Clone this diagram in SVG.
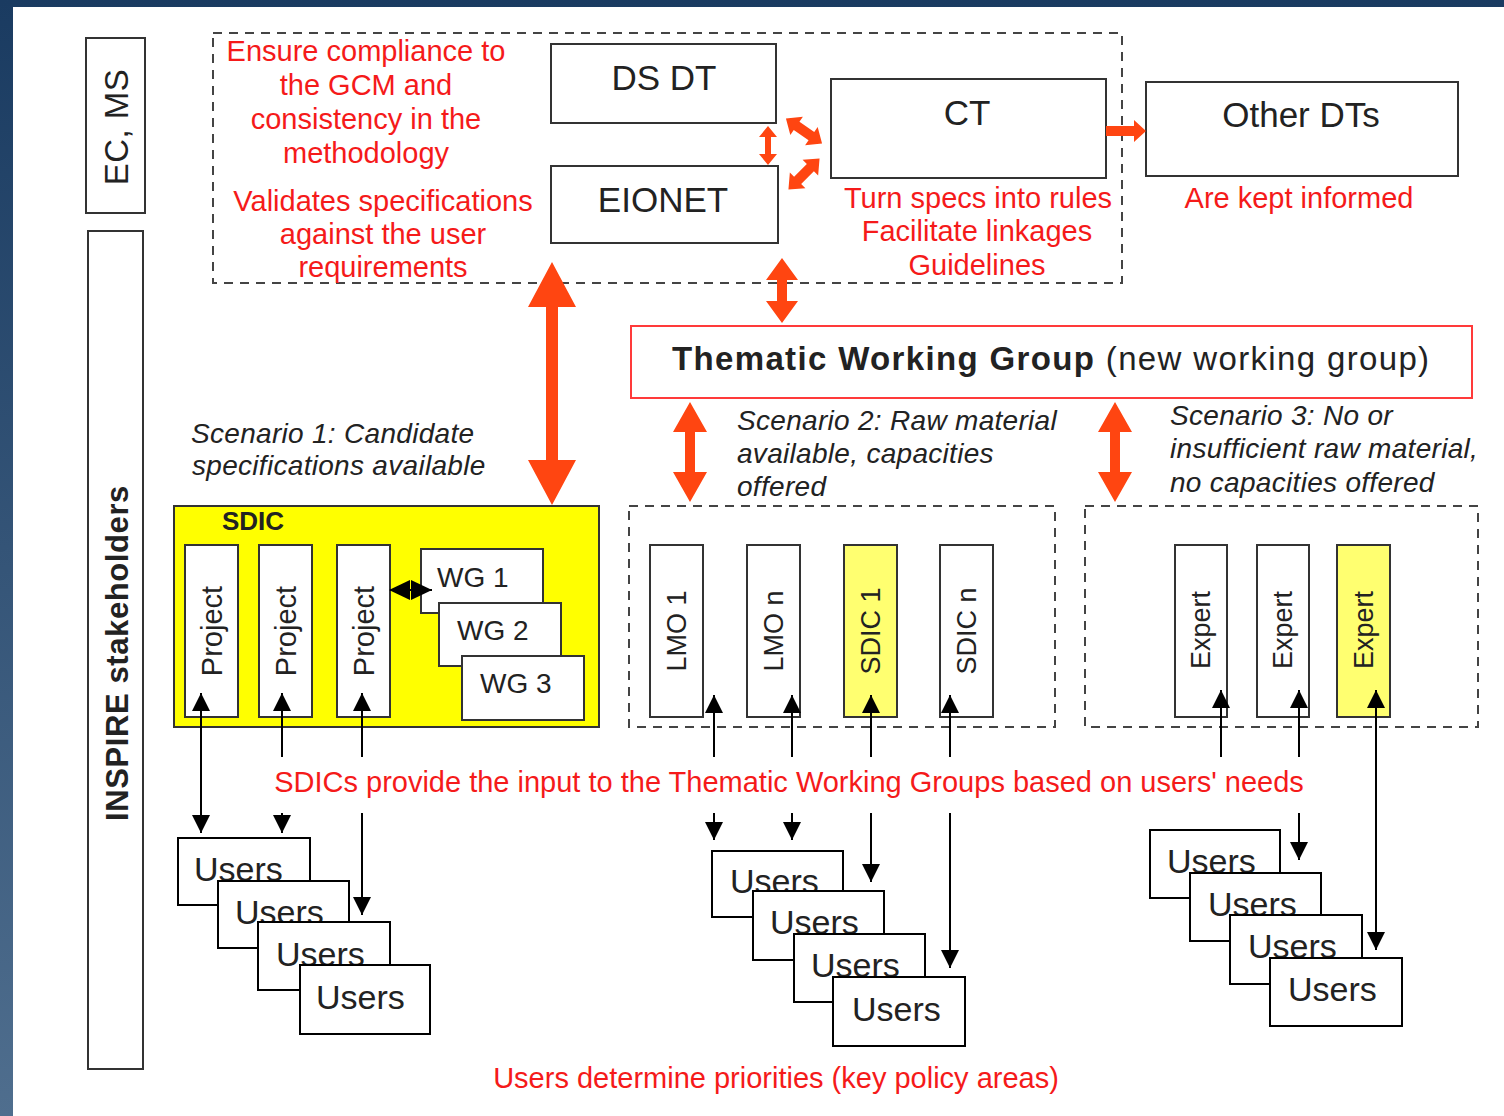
<svg xmlns="http://www.w3.org/2000/svg" width="1504" height="1116" viewBox="0 0 1504 1116">
<defs>
<linearGradient id="bg" x1="0" y1="0" x2="0" y2="1">
<stop offset="0" stop-color="#1a3b61"/>
<stop offset="1" stop-color="#4f6e8e"/>
</linearGradient>
<marker id="ah" viewBox="0 0 18 18" refX="18" refY="9" markerWidth="18" markerHeight="18" markerUnits="userSpaceOnUse" orient="auto-start-reverse">
<path d="M0,0 L18,9 L0,18 z" fill="#000"/>
</marker>
<style>
.box{fill:#fff;stroke:#333;stroke-width:2}
.ubox{fill:#fff;stroke:#000;stroke-width:2}
.dash{fill:none;stroke:#444;stroke-width:2;stroke-dasharray:9 7}
.lbl{font-family:"Liberation Sans",Arial,sans-serif;fill:#222}
.red{font-family:"Liberation Sans",Arial,sans-serif;fill:#f51a1a;font-size:29px}
.it{font-family:"Liberation Sans",Arial,sans-serif;fill:#222;font-size:28px;font-style:italic;letter-spacing:0.3px}
.ra{fill:#ff4511}
.bl{stroke:#000;stroke-width:2;fill:none}
.users{font-family:"Liberation Sans",Arial,sans-serif;fill:#222;font-size:34px}
</style>
</defs>
<rect x="0" y="0" width="1504" height="1116" fill="url(#bg)"/>
<rect x="13" y="7" width="1491" height="1109" fill="#fff"/>

<g id="ec-ms">
<rect class="box" x="86" y="38" width="59" height="175"/>
<text class="lbl" font-size="33" letter-spacing="0.5" text-anchor="middle" dy="0.35em" transform="translate(116,127) rotate(-90)">EC, MS</text>
</g>
<g id="inspire-stakeholders">
<rect class="box" x="88" y="231" width="55" height="838"/>
<text class="lbl" font-size="31" font-weight="bold" letter-spacing="0.6" fill="#111" text-anchor="middle" dy="0.35em" transform="translate(117,653) rotate(-90)">INSPIRE stakeholders</text>
</g>

<g id="top-group">
<rect class="dash" x="213" y="33" width="909" height="250"/>
<text class="red" text-anchor="middle" x="366" y="61">Ensure compliance to</text>
<text class="red" text-anchor="middle" x="366" y="95">the GCM and</text>
<text class="red" text-anchor="middle" x="366" y="129">consistency in the</text>
<text class="red" text-anchor="middle" x="366" y="163">methodology</text>
<text class="red" text-anchor="middle" x="383" y="211">Validates specifications</text>
<text class="red" text-anchor="middle" x="383" y="244">against the user</text>
<text class="red" text-anchor="middle" x="383" y="277">requirements</text>
</g>
<g id="ds-dt">
<rect class="box" x="551" y="44" width="225" height="79"/>
<text class="lbl" font-size="35" text-anchor="middle" x="664" y="90">DS DT</text>
</g>
<g id="eionet">
<rect class="box" x="551" y="166" width="227" height="77"/>
<text class="lbl" font-size="35" text-anchor="middle" x="663" y="212">EIONET</text>
</g>
<g id="ct">
<rect class="box" x="831" y="79" width="275" height="99"/>
<text class="lbl" font-size="35" text-anchor="middle" x="967" y="125">CT</text>
<text class="red" text-anchor="middle" x="978" y="208">Turn specs into rules</text>
<text class="red" text-anchor="middle" x="977" y="241">Facilitate linkages</text>
<text class="red" text-anchor="middle" x="977" y="275">Guidelines</text>
</g>
<g id="other-dts">
<rect class="box" x="1146" y="82" width="312" height="94"/>
<text class="lbl" font-size="35" text-anchor="middle" x="1301" y="127">Other DTs</text>
<text class="red" text-anchor="middle" x="1299" y="208">Are kept informed</text>
</g>

<g id="twg">
<rect x="631" y="326" width="841" height="72" fill="#fff" stroke="#ff3a3a" stroke-width="2"/>
<text class="lbl" font-size="33" letter-spacing="1.35" x="672" y="370" fill="#111"><tspan font-weight="bold">Thematic Working Group</tspan> (new working group)</text>
</g>

<g id="scenario-labels">
<text class="it" x="191" y="443">Scenario 1: Candidate</text>
<text class="it" x="192" y="475">specifications available</text>
<text class="it" x="737" y="430">Scenario 2: Raw material</text>
<text class="it" x="737" y="463">available, capacities</text>
<text class="it" x="737" y="496">offered</text>
<text class="it" x="1170" y="425">Scenario 3: No or</text>
<text class="it" x="1170" y="458">insufficient raw material,</text>
<text class="it" x="1170" y="492">no capacities offered</text>
</g>

<g id="sdic">
<rect x="174" y="506" width="425" height="221" fill="#ffff00" stroke="#333" stroke-width="2"/>
<text class="lbl" font-size="26" font-weight="bold" fill="#111" x="222" y="530">SDIC</text>
</g>
<g id="project-1">
<rect class="box" x="185" y="545" width="53" height="172"/>
<text class="lbl" font-size="29" text-anchor="middle" dy="0.35em" transform="translate(211.5,631) rotate(-90)">Project</text>
</g>
<g id="project-2">
<rect class="box" x="259" y="545" width="53" height="172"/>
<text class="lbl" font-size="29" text-anchor="middle" dy="0.35em" transform="translate(285.5,631) rotate(-90)">Project</text>
</g>
<g id="project-3">
<rect class="box" x="337" y="545" width="53" height="172"/>
<text class="lbl" font-size="29" text-anchor="middle" dy="0.35em" transform="translate(363.5,631) rotate(-90)">Project</text>
</g>
<g id="wg-1">
<rect class="box" x="421" y="549" width="122" height="64"/>
<text class="lbl" font-size="28" x="437" y="587">WG 1</text>
</g>
<g id="wg-2">
<rect class="box" x="439" y="603" width="122" height="63"/>
<text class="lbl" font-size="28" x="457" y="640">WG 2</text>
</g>
<g id="wg-3">
<rect class="box" x="462" y="656" width="122" height="64"/>
<text class="lbl" font-size="28" x="480" y="693">WG 3</text>
</g>

<g id="scenario-2">
<rect class="dash" x="629" y="506" width="426" height="221"/>
</g>
<g id="lmo-1">
<rect class="box" x="650" y="545" width="53" height="172"/>
<text class="lbl" font-size="27" text-anchor="middle" dy="0.35em" transform="translate(676.5,631) rotate(-90)">LMO 1</text>
</g>
<g id="lmo-n">
<rect class="box" x="747" y="545" width="53" height="172"/>
<text class="lbl" font-size="27" text-anchor="middle" dy="0.35em" transform="translate(773.5,631) rotate(-90)">LMO n</text>
</g>
<g id="sdic-1">
<rect x="844" y="545" width="53" height="172" fill="#ffff70" stroke="#333" stroke-width="2"/>
<text class="lbl" font-size="27" text-anchor="middle" dy="0.35em" transform="translate(870.5,631) rotate(-90)">SDIC 1</text>
</g>
<g id="sdic-n">
<rect class="box" x="940" y="545" width="53" height="172"/>
<text class="lbl" font-size="27" text-anchor="middle" dy="0.35em" transform="translate(966.5,631) rotate(-90)">SDIC n</text>
</g>

<g id="scenario-3">
<rect class="dash" x="1085" y="506" width="393" height="221"/>
</g>
<g id="expert-1">
<rect class="box" x="1175" y="545" width="52" height="172"/>
<text class="lbl" font-size="27" text-anchor="middle" dy="0.35em" transform="translate(1201,630) rotate(-90)">Expert</text>
</g>
<g id="expert-2">
<rect class="box" x="1257" y="545" width="52" height="172"/>
<text class="lbl" font-size="27" text-anchor="middle" dy="0.35em" transform="translate(1283,630) rotate(-90)">Expert</text>
</g>
<g id="expert-3">
<rect x="1337" y="545" width="53" height="172" fill="#ffff70" stroke="#333" stroke-width="2"/>
<text class="lbl" font-size="27" text-anchor="middle" dy="0.35em" transform="translate(1363.5,630) rotate(-90)">Expert</text>
</g>

<g id="users-left">
<rect class="ubox" x="178" y="838" width="132" height="67"/>
<text class="users" x="194" y="881">Users</text>
<rect class="ubox" x="218" y="881" width="131" height="67"/>
<text class="users" x="235" y="924">Users</text>
<rect class="ubox" x="258" y="922" width="132" height="68"/>
<text class="users" x="276" y="966">Users</text>
<rect class="ubox" x="300" y="965" width="130" height="69"/>
<text class="users" x="316" y="1009">Users</text>
</g>
<g id="users-middle">
<rect class="ubox" x="712" y="851" width="131" height="66"/>
<text class="users" x="730" y="893">Users</text>
<rect class="ubox" x="753" y="891" width="131" height="69"/>
<text class="users" x="770" y="934">Users</text>
<rect class="ubox" x="794" y="934" width="131" height="68"/>
<text class="users" x="811" y="977">Users</text>
<rect class="ubox" x="833" y="977" width="132" height="69"/>
<text class="users" x="852" y="1021">Users</text>
</g>
<g id="users-right">
<rect class="ubox" x="1150" y="830" width="130" height="68"/>
<text class="users" x="1167" y="873">Users</text>
<rect class="ubox" x="1190" y="873" width="131" height="68"/>
<text class="users" x="1208" y="916">Users</text>
<rect class="ubox" x="1230" y="915" width="132" height="69"/>
<text class="users" x="1248" y="958">Users</text>
<rect class="ubox" x="1270" y="958" width="132" height="68"/>
<text class="users" x="1288" y="1001">Users</text>
</g>

<g id="captions">
<text class="red" text-anchor="middle" x="789" y="792">SDICs provide the input to the Thematic Working Groups based on users' needs</text>
<text class="red" text-anchor="middle" x="776" y="1088">Users determine priorities (key policy areas)</text>
</g>

<g id="connectors">
<polygon class="ra" points="552,262 576,307 558,307 558,460 576,460 552,505 528,460 546,460 546,307 528,307"/>
<polygon class="ra" points="782,258 798,280 787,280 787,301 798,301 782,323 766,301 777,301 777,280 766,280"/>
<polygon class="ra" points="690,402 707,432 695,432 695,472 707,472 690,502 673,472 685,472 685,432 673,432"/>
<polygon class="ra" points="1115,402 1132,432 1120,432 1120,472 1132,472 1115,502 1098,472 1110,472 1110,432 1098,432"/>
<polygon class="ra" points="768,126 777,137 771,137 771,154 777,154 768,165 759,154 765,154 765,137 759,137"/>
<polygon class="ra" transform="translate(804,131) rotate(34.8)" points="-22,0 -9,-11 -9,-5 9,-5 9,-11 22,0 9,11 9,5 -9,5 -9,11"/>
<polygon class="ra" transform="translate(804,174) rotate(-45)" points="-22,0 -9,-11 -9,-5 9,-5 9,-11 22,0 9,11 9,5 -9,5 -9,11"/>
<polygon class="ra" points="1106,126 1134,126 1134,120 1146,131 1134,142 1134,136 1106,136"/>

<line x1="390" y1="590" x2="432" y2="590" class="bl"/>
<polygon points="389,590 410,580 410,600" fill="#000"/>
<polygon points="432,590 411,580 411,600" fill="#000"/>

<line class="bl" x1="201" y1="693" x2="201" y2="833" marker-start="url(#ah)" marker-end="url(#ah)"/>
<line class="bl" x1="282" y1="757" x2="282" y2="693" marker-end="url(#ah)"/>
<line class="bl" x1="282" y1="813" x2="282" y2="833" marker-end="url(#ah)"/>
<line class="bl" x1="362" y1="757" x2="362" y2="693" marker-end="url(#ah)"/>
<line class="bl" x1="362" y1="813" x2="362" y2="915" marker-end="url(#ah)"/>

<line class="bl" x1="714" y1="757" x2="714" y2="695" marker-end="url(#ah)"/>
<line class="bl" x1="714" y1="813" x2="714" y2="840" marker-end="url(#ah)"/>
<line class="bl" x1="792" y1="757" x2="792" y2="695" marker-end="url(#ah)"/>
<line class="bl" x1="792" y1="813" x2="792" y2="840" marker-end="url(#ah)"/>
<line class="bl" x1="871" y1="757" x2="871" y2="695" marker-end="url(#ah)"/>
<line class="bl" x1="871" y1="813" x2="871" y2="882" marker-end="url(#ah)"/>
<line class="bl" x1="950" y1="757" x2="950" y2="695" marker-end="url(#ah)"/>
<line class="bl" x1="950" y1="813" x2="950" y2="968" marker-end="url(#ah)"/>

<line class="bl" x1="1221" y1="757" x2="1221" y2="690" marker-end="url(#ah)"/>
<line class="bl" x1="1299" y1="757" x2="1299" y2="690" marker-end="url(#ah)"/>
<line class="bl" x1="1299" y1="813" x2="1299" y2="860" marker-end="url(#ah)"/>
<line class="bl" x1="1376" y1="690" x2="1376" y2="950" marker-start="url(#ah)" marker-end="url(#ah)"/>
</g>
</svg>
